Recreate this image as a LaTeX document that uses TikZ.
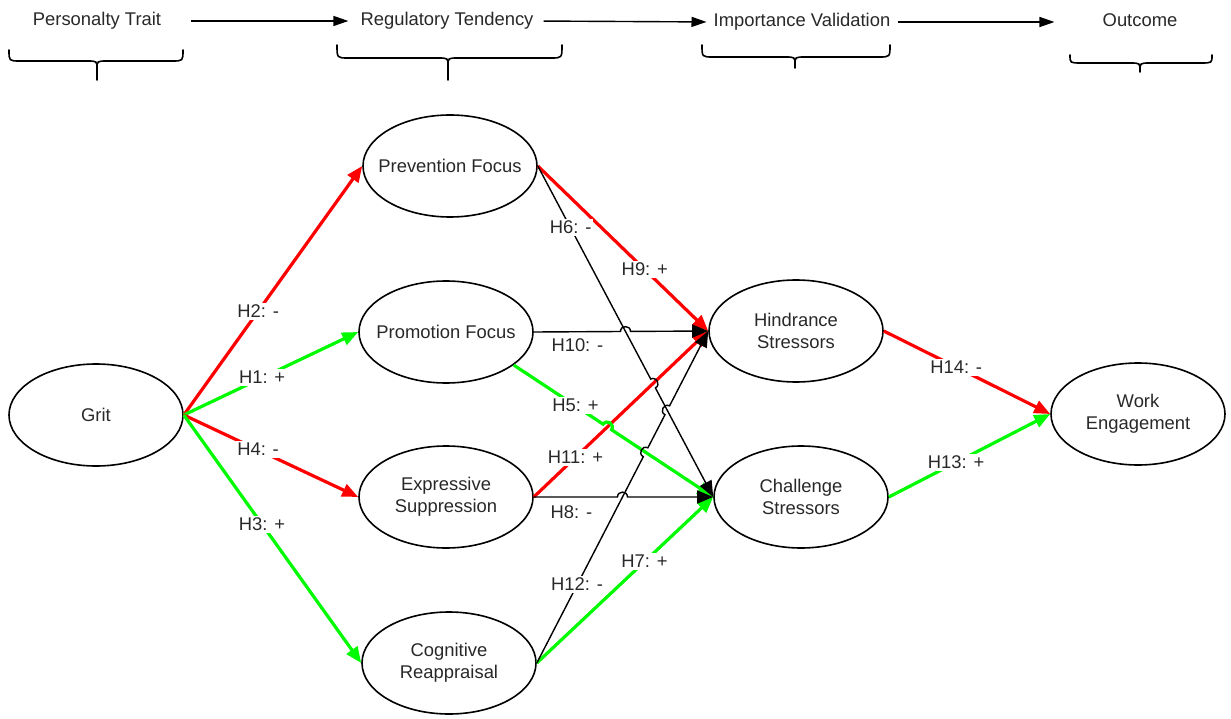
\documentclass[tikz,border=0pt]{standalone}
\usepackage{fontspec}
\setmainfont{Liberation Sans}
\usetikzlibrary{shapes.geometric,arrows.meta,calc,intersections}

\definecolor{hred}{RGB}{255,0,0}
\definecolor{hgreen}{RGB}{0,250,0}
\definecolor{ink}{RGB}{40,40,40}

% hop over a crossing line: #1 name prefix, #2 crossing point, #3 start, #4 end
\newcommand\mkhop[4]{%
  \coordinate (#1s) at ($(#2)!5pt!(#3)$);
  \coordinate (#1e) at ($(#2)!5pt!(#4)$);
  \coordinate (#1a) at ($(#1s)!6.5pt!90:(#2)$);
  \coordinate (#1b) at ($(#1e)!6.5pt!-90:(#2)$);}

% curly brace opening downwards: x1, x2, xc, ytop, ymid, ytip
\newcommand\downbrace[6]{%
  \draw[bracestyle] (#1,#4) .. controls (#1,#5) .. (#1+11,#5) -- (#3-10,#5)
      .. controls (#3,#5) .. (#3,#5+8) -- (#3,#6)
    (#2,#4) .. controls (#2,#5) .. (#2-11,#5) -- (#3+10,#5)
      .. controls (#3,#5) .. (#3,#5+8);}

\begin{document}
\begin{tikzpicture}[x=1pt,y=-1pt,
  every node/.style={font=\fontsize{18.4}{22}\selectfont, text=ink},
  construct/.style={ellipse, draw=black, line width=1.6pt, minimum width=174pt,
    minimum height=102pt, inner sep=0pt},
  ctext/.style={align=center, inner sep=0pt},
  header/.style={inner sep=0pt, text height=13pt, text depth=4pt},
  flowarrow/.style={draw=black, line width=1.4pt, -{Triangle[length=15pt,width=10pt]}},
  negarrow/.style={draw=hred, line width=3.2pt, -{Triangle[length=16pt,width=13pt]}},
  posarrow/.style={draw=hgreen, line width=3.2pt, -{Triangle[length=16pt,width=13pt]}},
  plainarrow/.style={draw=black, line width=1.4pt, -{Triangle[length=16pt,width=13pt]}},
  lab/.style={fill=white, inner sep=1.5pt, text height=13pt, text depth=1pt},
  bracestyle/.style={draw=black, line width=1.6pt, line cap=round}]

\useasboundingbox (0,0) rectangle (1231,719);

% stage headings
\node[header] (pt) at (97,21) {Personalty Trait};
\node[header] (rt) at (447,21) {Regulatory Tendency};
\node[header] (iv) at (802,22) {Importance Validation};
\node[header] (oc) at (1140,22) {Outcome};
\draw[flowarrow, shorten <=30pt, shorten >=12pt] (pt.east) -- (rt.west);
\draw[flowarrow, shorten <=10pt, shorten >=7pt] (rt.east) -- (iv.west);
\draw[flowarrow, shorten <=7pt, shorten >=48pt] (iv.east) -- (oc.west);

\downbrace{9}{183}{97}{50}{61}{80}
\downbrace{337}{562}{448}{45}{58}{80}
\downbrace{702}{890}{795}{45}{57}{68}
\downbrace{1070}{1212}{1140}{55}{63}{72}

% constructs
\node[construct, label={[ctext]center:Grit}] (grit) at (96,415) {};
\node[construct, label={[ctext]center:Prevention Focus}] (pf) at (450,166) {};
\node[construct, label={[ctext]center:Promotion Focus}] (pm) at (446,332) {};
\node[construct, label={[ctext]center:Expressive\\Suppression}] (es) at (446,497) {};
\node[construct, label={[ctext]center:Cognitive\\Reappraisal}] (cr) at (449,663) {};
\node[construct, label={[ctext]center:Hindrance\\Stressors}] (hs) at (796,331) {};
\node[construct, label={[ctext]center:Challenge\\Stressors}] (cs) at (801,497) {};
\node[construct, label={[ctext]center:Work\\Engagement}] (we) at (1138,414) {};

% crossing points of the black and green paths
\path[name path=l6] (pf.east) -- (cs.west);
\path[name path=l10] (pm.east) -- (hs.west);
\path[name path=l11] (es.east) -- (hs.west);
\path[name path=l5] (pm.-26) -- (cs.west);
\path[name path=l12] (cr.east) -- (hs.west);
\path[name path=l8] (es.east) -- (cs.west);
\path[name intersections={of=l10 and l6, by=xa}];
\path[name intersections={of=l6 and l11, by=xb}];
\path[name intersections={of=l5 and l11, by=xc}];
\path[name intersections={of=l12 and l5, by=xd}];
\path[name intersections={of=l12 and l6, by=xe}];
\path[name intersections={of=l8 and l12, by=xf}];
\mkhop{ha}{xa}{pm.east}{hs.west}
\mkhop{hb}{xb}{pf.east}{cs.west}
\mkhop{hc}{xc}{pm.-26}{cs.west}
\mkhop{hd}{xd}{cr.east}{hs.west}
\mkhop{he}{xe}{cr.east}{hs.west}
\mkhop{hf}{xf}{es.east}{cs.west}

% hypothesised paths
\draw[negarrow] (grit.east) -- (pf.west);
\draw[posarrow] (grit.east) -- (pm.west);
\draw[negarrow] (grit.east) -- (es.west);
\draw[posarrow] (grit.east) -- (cr.west);
\draw[negarrow] (pf.east) -- (hs.west);
\draw[negarrow] (es.east) -- (hs.west);
\draw[posarrow] (cr.east) -- (cs.west);
\draw[negarrow] (hs.east) -- (we.west);
\draw[posarrow] (cs.east) -- (we.west);
\draw[posarrow] (pm.-26) -- (hcs) .. controls (hca) and (hcb) .. (hce) -- (cs.west);
\draw[plainarrow] (pm.east) -- (has) .. controls (haa) and (hab) .. (hae) -- (hs.west);
\draw[plainarrow] (pf.east) -- (hbs) .. controls (hba) and (hbb) .. (hbe) -- (cs.west);
\draw[plainarrow] (cr.east) -- (hds) .. controls (hda) and (hdb) .. (hde)
  -- (hes) .. controls (hea) and (heb) .. (hee) -- (hs.west);
\draw[plainarrow] (es.east) -- (hfs) .. controls (hfa) and (hfb) .. (hfe) -- (cs.west);

% hypothesis labels
\path (grit.east) -- node[lab,pos=0.417] {H2: -} (pf.west);
\path (grit.east) -- node[lab,pos=0.449] {H1: +} (pm.west);
\path (grit.east) -- node[lab,pos=0.426] {H4: -} (es.west);
\path (grit.east) -- node[lab,pos=0.441] {H3: +} (cr.west);
\path (pf.east) -- node[lab,pos=0.187] {H6: -} (cs.west);
\path (pf.east) -- node[lab,pos=0.628] {H9: +} (hs.west);
\path (pm.east) -- node[lab,pos=0.25,yshift=-14pt] {H10: -} (hs.west);
\path (pm.-26) -- node[lab,pos=0.31] {H5: +} (cs.west);
\path (es.east) -- node[lab,pos=0.239] {H11: +} (hs.west);
\path (es.east) -- node[lab,pos=0.21,yshift=-15pt] {H8: -} (cs.west);
\path (cr.east) -- node[lab,pos=0.235] {H12: -} (hs.west);
\path (cr.east) -- node[lab,pos=0.61] {H7: +} (cs.west);
\path (hs.east) -- node[lab,pos=0.435] {H14: -} (we.west);
\path (cs.east) -- node[lab,pos=0.417] {H13: +} (we.west);
\end{tikzpicture}
\end{document}
